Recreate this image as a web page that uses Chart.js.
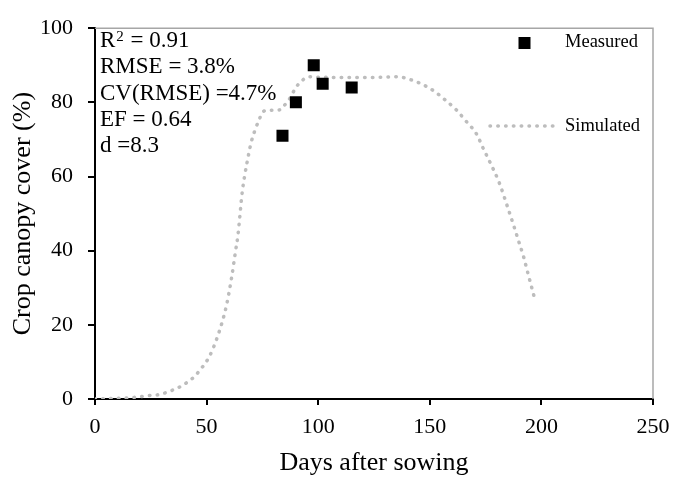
<!DOCTYPE html>
<html>
<head>
<meta charset="utf-8">
<script src="https://cdn.jsdelivr.net/npm/chart.js@4.4.1/dist/chart.umd.min.js"></script>
<style>
  body { margin: 0; background: #fff; }
  canvas { display: block; }
</style>
</head>
<body>
<canvas id="canopyChart" width="688" height="479"></canvas>
<script>
// Measured canopy cover
const measuredDays = [84, 90, 98, 102, 115];
const measuredCover = [71, 80, 90, 85, 84];

// Simulated canopy cover
const simDays = [0, 5, 10, 15, 20, 25, 29, 33, 36, 39, 42, 45, 47, 49, 51, 53, 55, 57, 59, 61,
  63, 64, 66, 67, 69, 70, 72, 74, 75, 77, 80, 83, 85, 87, 90, 93, 96, 100, 110, 120,
  130, 135, 138, 141, 145, 151, 157, 162, 166, 171, 174, 177, 181, 185, 188, 190, 192, 194, 196, 197];
const simCover = [0, 0.1, 0.2, 0.3, 0.6, 1.0, 1.2, 2.0, 2.7, 3.6, 4.8, 6.3, 7.8, 9.3, 11.2, 13.8, 17.0, 20.8, 25.5, 32,
  40, 44, 56, 60, 66.5, 69.3, 73, 76, 77.3, 77.8, 77.9, 78, 79.3, 80.8, 84, 86, 86.9, 86.8, 86.7, 86.7,
  86.8, 86.9, 86.7, 86.2, 85.3, 83.4, 80.6, 77.9, 75.1, 71.4, 67.5, 63.8, 58.5, 51.5, 46, 42.2, 38.4, 33.8, 29.3, 27];

// Statistics shown in the upper left corner
const statLines = ["= 0.91", "RMSE = 3.8%", "CV(RMSE) =4.7%", "EF = 0.64", "d =8.3"];

const xTitle = "Days after sowing";
const yTitle = "Crop canopy cover (%)";
const serif = "'Liberation Serif', 'Times New Roman', serif";
const dotColor = "#bdbdbd";
const dotPattern = [0.5, 7.3];

// Gray frame on top and right, statistics text and the legend
const extrasPlugin = {
  id: "extras",
  afterDraw(chart) {
    const ctx = chart.ctx;
    const area = chart.chartArea;
    ctx.save();

    ctx.strokeStyle = "#a6a6a6";
    ctx.lineWidth = 1.5;
    ctx.beginPath();
    ctx.moveTo(area.left, area.top);
    ctx.lineTo(area.right, area.top);
    ctx.lineTo(area.right, area.bottom);
    ctx.stroke();

    // statistics
    ctx.fillStyle = "#000";
    ctx.textBaseline = "alphabetic";
    ctx.textAlign = "left";
    const x0 = area.left + 5;
    let base = 47;
    statLines.forEach((line, i) => {
      ctx.font = "23px " + serif;
      if (i === 0) {
        ctx.fillText("R", x0, base);
        const rw = ctx.measureText("R").width;
        ctx.font = "15px " + serif;
        ctx.fillText("2", x0 + rw + 1, base - 6.5);
        const sw = ctx.measureText("2").width;
        ctx.font = "23px " + serif;
        ctx.fillText(" " + line, x0 + rw + sw + 2, base);
      } else {
        ctx.fillText(line, x0, base);
      }
      base += 26.25;
    });

    // legend
    ctx.font = "18.5px " + serif;
    ctx.textBaseline = "middle";
    ctx.fillStyle = "#000";
    ctx.fillRect(518.5, 37, 12, 12);
    ctx.fillText("Measured", 565, 42);

    ctx.strokeStyle = dotColor;
    ctx.lineWidth = 3.5;
    ctx.lineCap = "round";
    ctx.setLineDash(dotPattern);
    ctx.beginPath();
    ctx.moveTo(490, 126);
    ctx.lineTo(556, 126);
    ctx.stroke();
    ctx.setLineDash([]);
    ctx.fillText("Simulated", 565, 126);

    ctx.restore();
  }
};

new Chart(document.getElementById("canopyChart"), {
  type: "scatter",
  data: {
    datasets: [
      {
        label: "Measured",
        data: measuredDays.map((d, i) => ({ x: d, y: measuredCover[i] })),
        pointStyle: "rect",
        pointRadius: 8.5,
        pointHoverRadius: 8.5,
        backgroundColor: "#000",
        borderColor: "#000",
        borderWidth: 0,
        order: 1
      },
      {
        type: "line",
        label: "Simulated",
        data: simDays.map((d, i) => ({ x: d, y: simCover[i] })),
        borderColor: dotColor,
        borderWidth: 3.5,
        borderDash: dotPattern,
        borderCapStyle: "round",
        cubicInterpolationMode: "monotone",
        pointRadius: 0,
        fill: false,
        order: 2
      }
    ]
  },
  options: {
    responsive: false,
    animation: false,
    layout: { padding: { top: 23, right: 35, bottom: 0, left: 0 } },
    plugins: {
      legend: { display: false },
      tooltip: { enabled: false }
    },
    scales: {
      x: {
        type: "linear",
        min: 0,
        max: 250,
        afterFit: scale => { scale.height = 80; },
        ticks: { stepSize: 50, color: "#000", font: { family: serif, size: 22 }, padding: 9, maxRotation: 0 },
        grid: { drawOnChartArea: false, drawTicks: true, tickLength: 6, color: "#000", lineWidth: 2 },
        border: { color: "#000", width: 2 },
        title: { display: true, text: xTitle, color: "#000", font: { family: serif, size: 26 }, padding: { top: 0, bottom: 0 } }
      },
      y: {
        min: 0,
        max: 100,
        afterFit: scale => { scale.width = 95; },
        ticks: { stepSize: 20, color: "#000", font: { family: serif, size: 22 }, padding: 15 },
        grid: { drawOnChartArea: false, drawTicks: true, tickLength: 7, color: "#000", lineWidth: 2 },
        border: { color: "#000", width: 2 },
        title: { display: true, text: yTitle, color: "#000", font: { family: serif, size: 26 }, padding: { top: 8, bottom: 0 } }
      }
    }
  },
  plugins: [extrasPlugin]
});
</script>
</body>
</html>
